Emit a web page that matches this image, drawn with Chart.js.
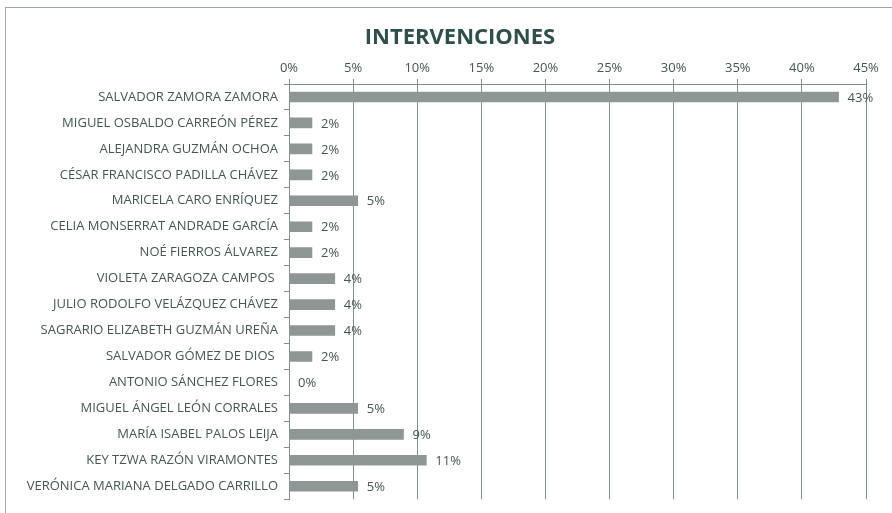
<!DOCTYPE html>
<html><head><meta charset="utf-8">
<script src="https://cdn.jsdelivr.net/npm/chart.js@4.4.1/dist/chart.umd.min.js"></script>
<style>html,body{margin:0;padding:0;background:#fff;overflow:hidden;}#wrap{width:892px;height:513px;position:relative;overflow:hidden;}</style>
</head><body><div id="wrap"><canvas id="c" width="920" height="513"></canvas></div>
<script>
const categories = ["SALVADOR ZAMORA ZAMORA","MIGUEL OSBALDO CARREÓN PÉREZ","ALEJANDRA GUZMÁN OCHOA","CÉSAR FRANCISCO PADILLA CHÁVEZ","MARICELA CARO ENRÍQUEZ","CELIA MONSERRAT ANDRADE GARCÍA","NOÉ FIERROS ÁLVAREZ","VIOLETA ZARAGOZA CAMPOS ","JULIO RODOLFO VELÁZQUEZ CHÁVEZ","SAGRARIO ELIZABETH GUZMÁN UREÑA","SALVADOR GÓMEZ DE DIOS ","ANTONIO SÁNCHEZ FLORES","MIGUEL ÁNGEL LEÓN CORRALES","MARÍA ISABEL PALOS LEIJA","KEY TZWA RAZÓN VIRAMONTES","VERÓNICA MARIANA DELGADO CARRILLO"];
const values = [42.86,1.79,1.79,1.79,5.36,1.79,1.79,3.57,3.57,3.57,1.79,0,5.36,8.93,10.71,5.36];
const valueLabels = ["43%","2%","2%","2%","5%","2%","2%","4%","4%","4%","2%","0%","5%","9%","11%","5%"];
const tickLabels = ["0%","5%","10%","15%","20%","25%","30%","35%","40%","45%"];

const FONT = "'Open Sans',sans-serif";
const TXT = '#435656';
const GRID = '#7f9090';

const frame = {id:'frame', beforeDraw(ch){const c=ch.ctx;c.save();c.fillStyle='#fff';c.fillRect(0,0,ch.width,ch.height);c.strokeStyle='#a0a8a8';c.lineWidth=1;c.strokeRect(5.5,7.5,ch.width+10,ch.height+10);c.restore();}};
const vlabels = {id:'vlabels', afterDatasetsDraw(ch){const c=ch.ctx;const meta=ch.getDatasetMeta(0);c.save();c.font='13px '+FONT;c.fillStyle=TXT;c.textBaseline='middle';c.textAlign='left';meta.data.forEach((el,i)=>{c.fillText(valueLabels[i], el.x+9, el.y+1);});c.restore();}};

new Chart(document.getElementById('c'), {
  type:'bar',
  data:{labels:categories, datasets:[{data:values, backgroundColor:'#8e9696', barThickness:10}]},
  options:{
    indexAxis:'y', responsive:false, animation:false, devicePixelRatio:1,
    layout:{padding:{left:0,right:0,top:0,bottom:8}},
    plugins:{legend:{display:false}, tooltip:{enabled:false},
      title:{display:true, text:'INTERVENCIONES', color:'#2f4f4d', font:{family:FONT, size:22, weight:'bold'}, padding:{top:25,bottom:6}}},
    scales:{
      x:{position:'top', min:0, max:45,
        ticks:{stepSize:5, color:TXT, font:{family:FONT, size:13}, padding:3, callback:(v,i)=>tickLabels[i]},
        grid:{color:GRID, lineWidth:1, tickLength:5, drawTicks:true},
        border:{display:true, color:GRID}},
      y:{ticks:{color:TXT, font:{family:FONT, size:13}, padding:6, autoSkip:false},
        grid:{offset:true, drawOnChartArea:false, drawTicks:true, tickLength:5, color:GRID},
        border:{display:true, color:GRID},
        afterFit:(s)=>{s.width=289;}},
      yPad:{position:'right', display:true, grid:{display:false}, ticks:{display:false}, border:{display:false},
        afterFit:(s)=>{s.width=54;}}
    }
  },
  plugins:[frame, vlabels]
});
</script></body></html>
